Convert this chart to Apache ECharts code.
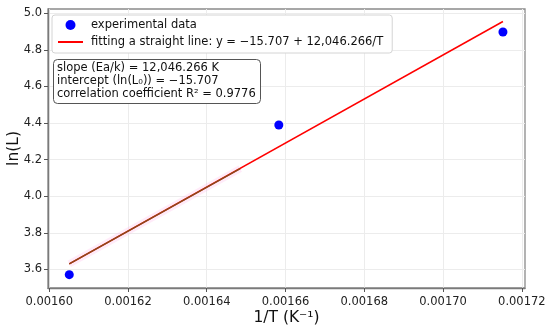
<!DOCTYPE html>
<html>
<head>
<meta charset="utf-8">
<script src="https://cdn.jsdelivr.net/npm/echarts@6/dist/echarts.min.js"></script>
<style>html,body{margin:0;padding:0;background:#fff}#c{width:550px;height:330px}</style>
</head>
<body>
<div id="c"></div>
<script>
// data
const invT = [0.0016051, 0.0016583, 0.0017152];
const lnL = [3.571, 4.389, 4.898];
const fitX = [0.0016051, 0.0017152];
const fitY = [3.630, 4.955];
const brownX = [0.0016051, 0.0016485];
const brownY = [3.630, 4.151];
const xTicks = [0.00160, 0.00162, 0.00164, 0.00166, 0.00168, 0.00170, 0.00172];
const yTicks = [3.6, 3.8, 4.0, 4.2, 4.4, 4.6, 4.8, 5.0];
const expName = 'experimental data';
const fitName = 'fitting a straight line: y = \u221215.707 + 12,046.266/T';
const infoLines = [
  'slope (Ea/k) = 12,046.266 K',
  'intercept (ln(L\u2080)) = \u221215.707',
  'correlation coefficient R\u00B2 = 0.9776'
];

const F = 'DejaVu Sans';
const chart = echarts.init(document.getElementById('c'), null, {renderer: 'canvas'});
const axisCommon = {
  axisLine: {show: true, lineStyle: {color: '#7a7a7a', width: 1.3}},
  axisTick: {show: true, length: 4, lineStyle: {color: '#555'}},
  splitLine: {show: true, lineStyle: {color: '#ececec', width: 1}},
  axisLabel: {fontFamily: F, fontSize: 11.5, color: '#222'},
  nameTextStyle: {fontFamily: F, fontSize: 15.5, color: '#111'},
  nameMoveOverlap: false
};
chart.setOption({
  animation: false,
  backgroundColor: '#fff',
  grid: {left: 48, right: 25, top: 9, bottom: 42, containLabel: false, outerBoundsMode: 'none',
         show: true, borderColor: '#8a8a8a', borderWidth: 1.3, backgroundColor: 'transparent'},
  title: {
    text: infoLines.join('\n'),
    left: 53, top: 59,
    padding: [3, 5, 3, 4],
    backgroundColor: '#fff',
    borderColor: '#555', borderWidth: 1, borderRadius: 4,
    textStyle: {fontFamily: F, fontSize: 11.5, fontWeight: 'normal', color: '#111', lineHeight: 13}
  },
  legend: {
    data: [{name: expName}, {name: fitName, itemStyle: {opacity: 0}}],
    orient: 'vertical',
    left: 52, top: 15,
    padding: [3, 9, 4, 5],
    itemGap: 3,
    itemWidth: 25, itemHeight: 10,
    backgroundColor: '#fff',
    borderColor: '#d4d4d4', borderWidth: 1, borderRadius: 3,
    textStyle: {fontFamily: F, fontSize: 11.5, color: '#111', lineHeight: 14, padding: [0, 0, 0, 3]}
  },
  xAxis: Object.assign({}, axisCommon, {
    type: 'value', min: 0.0015997, max: 0.0017208,
    name: '1/T (K\u207B\u00B9)', nameLocation: 'middle', nameGap: 22,
    axisTick: Object.assign({}, axisCommon.axisTick, {customValues: xTicks}),
    axisLabel: Object.assign({}, axisCommon.axisLabel, {customValues: xTicks, margin: 8, formatter: v => v.toFixed(5)})
  }),
  yAxis: Object.assign({}, axisCommon, {
    type: 'value', min: 3.498, max: 5.0235,
    name: 'ln(L)', nameLocation: 'middle', nameGap: 26,
    axisTick: Object.assign({}, axisCommon.axisTick, {customValues: yTicks}),
    axisLabel: Object.assign({}, axisCommon.axisLabel, {customValues: yTicks, margin: 6, formatter: v => v.toFixed(1)})
  }),
  series: [
    {
      name: 'halo', type: 'line', silent: true, symbol: 'none',
      data: brownX.map((x, i) => [x, brownY[i]]),
      lineStyle: {color: 'rgba(255,190,235,0.3)', width: 7}, z: 1
    },
    {
      name: fitName, type: 'line', symbol: 'none',
      data: fitX.map((x, i) => [x, fitY[i]]),
      itemStyle: {color: '#ff0000', opacity: 0},
      lineStyle: {color: '#ff0000', width: 1.5, opacity: 1}, z: 2
    },
    {
      name: 'overlap', type: 'line', symbol: 'none', silent: true,
      data: brownX.map((x, i) => [x, brownY[i]]),
      lineStyle: {color: '#8a4a1c', width: 1.5}, z: 3
    },
    {
      name: expName, type: 'scatter', symbol: 'circle', symbolSize: 9,
      data: invT.map((x, i) => [x, lnL[i]]),
      itemStyle: {color: '#0000ff', opacity: 1}, z: 4
    }
  ]
});
</script>
</body>
</html>
